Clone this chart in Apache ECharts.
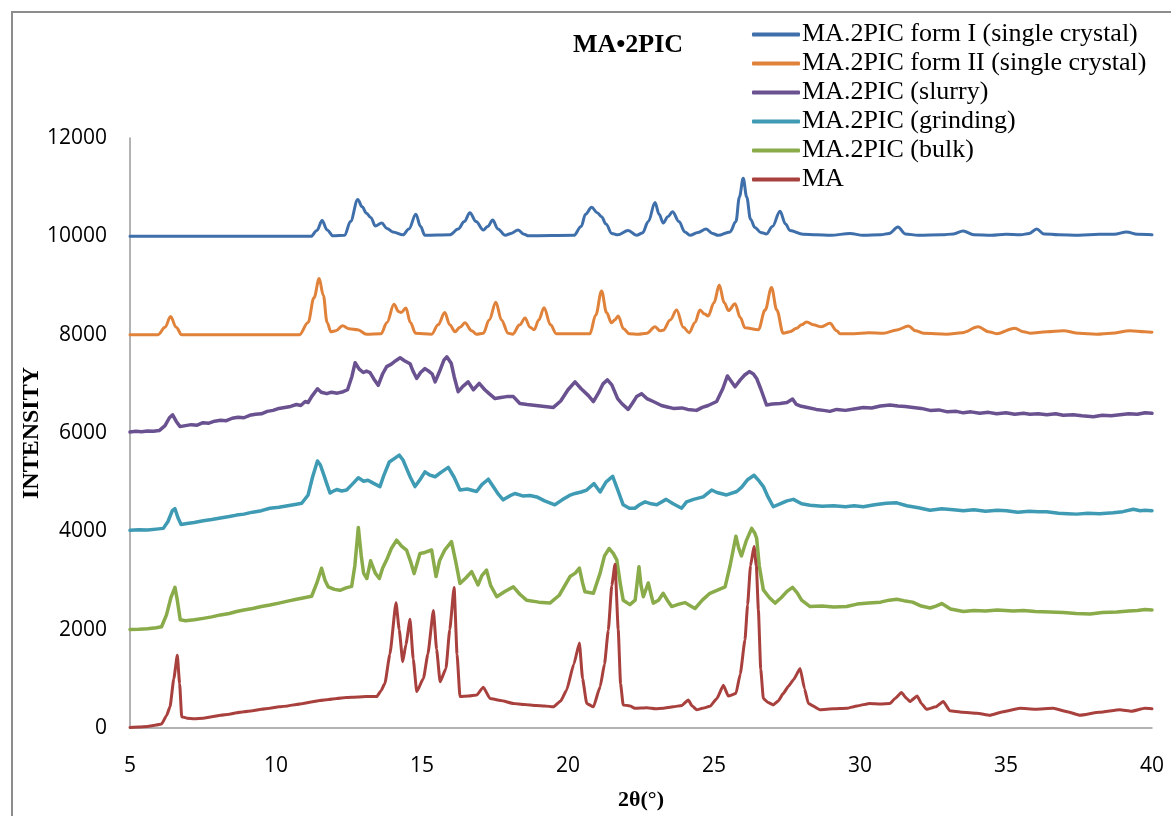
<!DOCTYPE html>
<html><head><meta charset="utf-8">
<script src="https://cdn.jsdelivr.net/npm/echarts@6/dist/echarts.min.js"></script>
<style>html,body{margin:0;padding:0;background:#fff}#c{width:1171px;height:816px}</style>
</head><body><div id="c"></div>
<script>
const seriesNames = ['MA.2PIC form I (single crystal)','MA.2PIC form II (single crystal)','MA.2PIC (slurry)','MA.2PIC (grinding)','MA.2PIC (bulk)','MA'];
const xTicks = [5,10,15,20,25,30,35,40];
const yTicks = [0,2000,4000,6000,8000,10000,12000];

const formI = [[5,10000],[11.2,10000],[11.4,10120],[11.58,10320],[11.75,10130],[11.95,10010],[12.35,10020],[12.55,10300],[12.8,10750],[12.95,10600],[13.1,10470],[13.25,10380],[13.4,10210],[13.62,10270],[13.8,10160],[14.0,10090],[14.35,10030],[14.55,10150],[14.79,10450],[14.95,10200],[15.1,10020],[15.95,10030],[16.24,10150],[16.45,10300],[16.64,10480],[16.85,10300],[17.1,10130],[17.25,10200],[17.42,10330],[17.6,10150],[17.85,10020],[18.05,10060],[18.29,10130],[18.5,10040],[18.65,10010],[20.2,10020],[20.45,10200],[20.6,10450],[20.81,10590],[21.0,10480],[21.15,10400],[21.3,10250],[21.5,10060],[21.7,10030],[22.06,10120],[22.35,10020],[22.55,10070],[22.75,10300],[22.98,10690],[23.12,10450],[23.26,10270],[23.42,10400],[23.58,10500],[23.8,10300],[24.0,10090],[24.18,10020],[24.45,10080],[24.73,10150],[24.95,10060],[25.14,10020],[25.55,10090],[25.75,10300],[25.87,10800],[26.0,11180],[26.12,10800],[26.25,10350],[26.4,10180],[26.6,10080],[26.8,10050],[27.0,10200],[27.26,10510],[27.45,10250],[27.6,10120],[28.05,10040],[28.5,10030],[29.0,10020],[29.66,10060],[30.1,10020],[30.7,10030],[31.0,10060],[31.3,10190],[31.55,10050],[32.0,10020],[32.8,10030],[33.2,10050],[33.53,10110],[33.9,10030],[34.5,10020],[35.0,10040],[35.5,10030],[35.8,10060],[36.05,10150],[36.3,10050],[36.8,10030],[37.5,10020],[38.2,10040],[38.7,10040],[39.13,10090],[39.5,10040],[40,10030]];

const formII = [[5,8000],[5.96,8000],[6.2,8150],[6.39,8370],[6.58,8150],[6.77,8000],[10.8,8000],[11.1,8250],[11.3,8750],[11.48,9140],[11.62,8800],[11.75,8250],[11.88,8060],[12.05,8080],[12.28,8180],[12.5,8120],[12.8,8100],[13.1,8010],[13.6,8020],[13.8,8250],[14.04,8620],[14.2,8470],[14.28,8450],[14.45,8540],[14.6,8250],[14.78,8030],[15.33,8010],[15.55,8200],[15.78,8450],[15.95,8200],[16.13,8060],[16.3,8150],[16.47,8240],[16.7,8080],[16.87,8010],[17.1,8030],[17.3,8300],[17.53,8660],[17.72,8300],[17.95,8030],[18.1,8010],[18.35,8200],[18.53,8340],[18.7,8150],[18.84,8100],[19.0,8300],[19.18,8550],[19.4,8200],[19.6,8020],[20.75,8020],[20.95,8400],[21.15,8890],[21.32,8450],[21.49,8240],[21.6,8300],[21.72,8380],[21.9,8120],[22.1,8020],[22.4,8010],[22.7,8030],[22.98,8160],[23.15,8080],[23.26,8090],[23.5,8300],[23.72,8500],[23.95,8150],[24.15,8040],[24.35,8250],[24.52,8500],[24.68,8420],[24.8,8380],[25.0,8650],[25.18,9010],[25.35,8650],[25.5,8490],[25.72,8630],[25.9,8350],[26.06,8140],[26.52,8100],[26.75,8500],[26.97,8960],[27.15,8500],[27.37,8030],[27.6,8060],[27.83,8130],[28.0,8200],[28.17,8260],[28.4,8200],[28.68,8160],[28.97,8230],[29.2,8080],[29.32,8020],[29.8,8020],[30.3,8040],[30.8,8030],[31.26,8095],[31.66,8175],[31.9,8080],[32.17,8030],[32.97,8010],[33.5,8040],[34.05,8160],[34.4,8060],[34.68,8020],[35.3,8130],[35.6,8060],[35.82,8030],[36.4,8060],[36.96,8080],[37.5,8030],[38.1,8010],[38.6,8030],[39.25,8080],[39.76,8060],[40,8050]];

const slurry = [[5,6020],[5.2,6035],[5.4,6025],[5.6,6040],[5.8,6035],[6.0,6050],[6.2,6150],[6.35,6310],[6.46,6370],[6.58,6240],[6.71,6130],[6.9,6150],[7.1,6170],[7.3,6160],[7.5,6210],[7.7,6200],[7.9,6240],[8.1,6260],[8.3,6250],[8.5,6300],[8.7,6320],[8.9,6310],[9.1,6360],[9.3,6380],[9.5,6390],[9.7,6440],[9.9,6460],[10.1,6500],[10.3,6520],[10.5,6540],[10.7,6580],[10.85,6560],[11.0,6640],[11.1,6620],[11.22,6740],[11.42,6900],[11.55,6830],[11.74,6800],[11.9,6830],[12.1,6810],[12.3,6840],[12.45,6880],[12.6,7150],[12.71,7430],[12.85,7300],[12.99,7230],[13.1,7260],[13.22,7230],[13.35,7100],[13.5,6970],[13.65,7200],[13.79,7350],[13.95,7400],[14.1,7470],[14.25,7530],[14.4,7470],[14.59,7410],[14.7,7250],[14.82,7110],[14.95,7230],[15.1,7310],[15.25,7250],[15.35,7200],[15.45,7040],[15.6,7250],[15.75,7480],[15.85,7550],[16.0,7420],[16.1,7150],[16.24,6840],[16.4,6950],[16.58,7040],[16.76,6880],[16.96,7010],[17.15,6880],[17.3,6800],[17.5,6700],[17.7,6720],[17.9,6740],[18.13,6740],[18.35,6600],[18.6,6580],[18.9,6560],[19.2,6540],[19.5,6520],[19.75,6650],[20.0,6880],[20.24,7040],[20.45,6900],[20.7,6760],[20.87,6640],[21.05,6820],[21.2,7000],[21.35,7080],[21.5,6980],[21.7,6700],[21.84,6600],[22.06,6480],[22.2,6600],[22.35,6740],[22.52,6800],[22.7,6700],[22.92,6640],[23.2,6560],[23.4,6530],[23.61,6500],[23.9,6510],[24.1,6480],[24.4,6460],[24.6,6520],[24.8,6560],[25.09,6640],[25.3,6900],[25.46,7160],[25.6,7040],[25.72,6940],[25.9,7080],[26.05,7180],[26.21,7250],[26.35,7200],[26.46,7110],[26.6,6900],[26.8,6570],[27.0,6590],[27.26,6600],[27.5,6620],[27.69,6690],[27.82,6580],[27.95,6550],[28.2,6520],[28.5,6480],[28.75,6460],[28.97,6440],[29.2,6480],[29.5,6460],[29.8,6490],[30.11,6520],[30.4,6510],[30.7,6550],[31.03,6570],[31.3,6550],[31.55,6540],[31.82,6520],[32.1,6500],[32.4,6460],[32.7,6470],[33.0,6430],[33.3,6440],[33.54,6410],[33.8,6430],[34.1,6400],[34.4,6420],[34.68,6390],[35.0,6410],[35.3,6380],[35.6,6400],[35.82,6380],[36.1,6390],[36.4,6370],[36.7,6390],[36.96,6360],[37.3,6370],[37.6,6350],[37.99,6330],[38.3,6360],[38.6,6350],[38.9,6370],[39.2,6390],[39.5,6380],[39.76,6410],[40,6400]];

const grinding = [[5,4020],[5.3,4030],[5.6,4025],[5.9,4045],[6.14,4060],[6.3,4200],[6.45,4420],[6.54,4460],[6.64,4280],[6.75,4140],[6.95,4160],[7.2,4180],[7.51,4215],[7.8,4240],[8.1,4270],[8.4,4300],[8.65,4330],[8.9,4350],[9.2,4390],[9.5,4420],[9.79,4470],[10.1,4490],[10.4,4520],[10.7,4550],[10.88,4570],[11.1,4740],[11.25,5100],[11.42,5430],[11.52,5350],[11.62,5180],[11.75,4950],[11.85,4780],[12.0,4830],[12.08,4850],[12.25,4820],[12.42,4840],[12.6,4950],[12.82,5090],[13.0,5020],[13.15,5040],[13.33,4980],[13.56,4910],[13.7,5150],[13.88,5410],[14.05,5480],[14.22,5550],[14.35,5450],[14.47,5280],[14.6,5100],[14.76,4910],[14.93,5050],[15.1,5210],[15.25,5150],[15.45,5110],[15.65,5200],[15.9,5300],[16.1,5100],[16.3,4840],[16.55,4860],[16.87,4810],[17.05,4950],[17.27,5060],[17.45,4900],[17.62,4750],[17.78,4640],[18.0,4720],[18.18,4770],[18.45,4720],[18.7,4730],[18.93,4700],[19.2,4620],[19.55,4540],[19.8,4640],[20.05,4730],[20.24,4770],[20.45,4800],[20.64,4840],[20.89,4970],[21.0,4880],[21.1,4800],[21.3,5000],[21.53,5120],[21.7,4850],[21.89,4540],[22.1,4470],[22.29,4470],[22.45,4540],[22.64,4600],[22.85,4560],[23.04,4540],[23.36,4650],[23.6,4560],[23.89,4470],[24.06,4600],[24.3,4650],[24.63,4700],[24.92,4840],[25.1,4790],[25.43,4740],[25.78,4810],[25.95,4900],[26.15,5050],[26.37,5140],[26.55,5020],[26.69,4910],[26.85,4700],[27.03,4500],[27.3,4570],[27.5,4620],[27.72,4650],[28.0,4560],[28.29,4530],[28.7,4510],[29.1,4520],[29.5,4500],[29.8,4520],[30.11,4500],[30.5,4540],[30.9,4570],[31.26,4580],[31.6,4520],[32.0,4480],[32.4,4430],[32.8,4460],[33.2,4440],[33.54,4420],[33.9,4440],[34.3,4410],[34.7,4430],[35.02,4420],[35.4,4390],[35.8,4410],[36.1,4400],[36.39,4400],[36.8,4370],[37.1,4360],[37.42,4350],[37.8,4370],[38.2,4360],[38.67,4380],[39.0,4400],[39.36,4450],[39.6,4420],[39.76,4430],[40,4420]];

const bulk = [[5,2005],[5.3,2010],[5.6,2020],[5.9,2040],[6.08,2060],[6.25,2300],[6.4,2650],[6.54,2860],[6.62,2600],[6.72,2200],[6.9,2180],[7.2,2200],[7.51,2230],[7.8,2260],[8.1,2300],[8.4,2330],[8.65,2370],[8.9,2400],[9.2,2430],[9.5,2470],[9.79,2500],[10.1,2540],[10.4,2580],[10.7,2620],[10.88,2640],[11.05,2660],[11.22,2680],[11.4,2950],[11.56,3250],[11.68,3000],[11.79,2870],[12.0,2820],[12.19,2800],[12.4,2850],[12.59,2880],[12.7,3300],[12.82,4080],[12.92,3500],[13.0,3150],[13.11,3040],[13.24,3400],[13.4,3150],[13.54,3040],[13.65,3250],[13.79,3420],[13.95,3650],[14.13,3820],[14.3,3700],[14.47,3620],[14.6,3400],[14.73,3140],[14.93,3550],[15.1,3570],[15.33,3620],[15.48,3080],[15.6,3400],[15.78,3620],[16.01,3790],[16.15,3400],[16.3,2940],[16.5,3050],[16.7,3180],[16.92,2910],[17.05,3100],[17.21,3210],[17.35,2900],[17.56,2670],[17.85,2780],[18.13,2870],[18.35,2720],[18.58,2600],[19.0,2560],[19.38,2540],[19.7,2700],[20.07,3080],[20.25,3150],[20.39,3250],[20.5,2950],[20.58,2770],[20.87,2740],[21.1,3150],[21.25,3500],[21.41,3650],[21.55,3550],[21.67,3420],[21.8,2900],[21.89,2600],[22.12,2510],[22.3,2600],[22.43,3280],[22.5,2900],[22.58,2670],[22.75,2950],[22.85,2700],[22.92,2540],[23.1,2600],[23.26,2740],[23.4,2600],[23.55,2470],[23.8,2520],[24.01,2550],[24.2,2480],[24.35,2430],[24.6,2600],[24.86,2740],[25.1,2800],[25.38,2870],[25.55,3300],[25.75,3900],[25.85,3650],[25.94,3500],[26.1,3800],[26.29,4060],[26.4,3960],[26.46,3860],[26.55,3300],[26.69,2810],[26.9,2650],[27.09,2540],[27.3,2650],[27.5,2780],[27.69,2860],[27.85,2750],[28.0,2600],[28.29,2470],[28.7,2480],[29.1,2460],[29.54,2470],[29.9,2520],[30.3,2540],[30.7,2560],[31.0,2600],[31.26,2620],[31.5,2590],[31.8,2560],[32.1,2480],[32.4,2440],[32.6,2480],[32.8,2530],[33.1,2420],[33.54,2370],[33.9,2390],[34.3,2380],[34.7,2400],[35.25,2380],[35.6,2390],[36.0,2370],[36.5,2360],[36.96,2350],[37.4,2330],[37.88,2320],[38.3,2350],[38.8,2360],[39.2,2380],[39.5,2390],[39.76,2410],[40,2400]];

const ma = [[5,10],[5.3,20],[5.6,30],[5.9,60],[6.08,80],[6.25,250],[6.37,430],[6.5,1000],[6.62,1480],[6.7,900],[6.77,230],[6.95,200],[7.2,190],[7.51,200],[7.8,230],[8.1,260],[8.4,280],[8.65,310],[8.9,330],[9.2,350],[9.5,380],[9.79,400],[10.1,430],[10.4,450],[10.7,480],[10.93,500],[11.2,530],[11.5,560],[11.8,580],[12.08,600],[12.4,620],[12.8,630],[13.1,640],[13.45,640],[13.6,760],[13.73,910],[13.9,1500],[14.11,2550],[14.22,2000],[14.34,1350],[14.45,1700],[14.59,2210],[14.7,1400],[14.82,740],[15.05,1010],[15.2,1500],[15.39,2390],[15.5,1600],[15.62,940],[15.82,1210],[15.95,2000],[16.1,2860],[16.2,1500],[16.3,640],[16.6,650],[16.87,670],[17.1,830],[17.33,600],[17.7,560],[18.13,500],[18.5,480],[18.9,460],[19.2,450],[19.5,430],[19.75,550],[19.95,770],[20.2,1300],[20.39,1730],[20.5,1000],[20.64,500],[20.87,430],[21.1,840],[21.25,1300],[21.38,1990],[21.5,2900],[21.61,3330],[21.72,2000],[21.8,900],[21.89,470],[22.12,450],[22.29,400],[22.7,410],[23.0,390],[23.26,400],[23.6,430],[23.9,460],[24.12,570],[24.25,450],[24.41,370],[24.6,400],[24.86,440],[25.1,600],[25.32,870],[25.49,650],[25.75,700],[25.9,1100],[26.06,1790],[26.15,2500],[26.25,3300],[26.37,3690],[26.45,3300],[26.52,2400],[26.6,1200],[26.69,600],[26.85,520],[27.03,470],[27.2,550],[27.37,700],[27.55,850],[27.72,980],[27.95,1210],[28.1,800],[28.23,500],[28.63,370],[29.1,390],[29.54,400],[29.9,450],[30.34,500],[30.7,490],[31.03,500],[31.2,600],[31.42,720],[31.6,600],[31.71,540],[31.96,650],[32.1,500],[32.28,380],[32.6,430],[32.85,540],[33.08,350],[33.5,320],[34.0,300],[34.45,260],[34.9,330],[35.48,400],[36.0,380],[36.62,400],[37.1,330],[37.53,260],[38.2,320],[38.9,370],[39.3,340],[39.76,400],[40,390]];

const colors = ['#3f6faa','#e0823a','#6a5190','#3e9bb3','#89ab4a','#a8413d'];
const datasets = [formI, formII, slurry, grinding, bulk, ma];
const smoothFlags = [0.35, 0.35, 0, 0, 0, 0.15];
const widths = [3, 3, 3.5, 3.5, 3.5, 3];

const chart = echarts.init(document.getElementById('c'), null, {renderer:'canvas'});
const serif = "'Liberation Serif','Times New Roman',serif";
const tickFont = "'Open Sans',sans-serif";
chart.setOption({
  animation:false,
  backgroundColor:'#fff',
  color: colors,
  title:{text:'MA\u20222PIC', left:623, top:27, textAlign:'center',
    textStyle:{fontFamily:serif, fontWeight:'bold', fontSize:26, color:'#000'}},
  legend:{orient:'vertical', left:752, top:20, padding:0, itemWidth:48, itemHeight:4, itemGap:0,
    icon:'roundRect',
    data: seriesNames,
    textStyle:{fontFamily:serif, fontSize:26, color:'#000', lineHeight:29, padding:[0,0,0,-3]}},
  grid:{left:130, right:19, top:138, bottom:88, outerBoundsMode:'none', containLabel:false},
  xAxis:{type:'value', min:xTicks[0], max:xTicks[xTicks.length-1], interval:5,
    name:'2\u03b8(\u00b0)', nameLocation:'middle', nameGap:61, nameMoveOverlap:false,
    nameTextStyle:{fontFamily:serif, fontWeight:'bold', fontSize:22, color:'#000'},
    axisLine:{lineStyle:{color:'#9a9a9a', width:1.5}}, axisTick:{show:false},
    splitLine:{show:false},
    axisLabel:{margin:28, fontFamily:tickFont, fontSize:21, color:'#000'}},
  yAxis:{type:'value', min:yTicks[0], max:yTicks[yTicks.length-1], interval:2000,
    name:'INTENSITY', nameLocation:'middle', nameGap:86, nameRotate:90, nameMoveOverlap:false,
    nameTextStyle:{fontFamily:serif, fontWeight:'bold', fontSize:24, color:'#000'},
    axisLine:{show:true, lineStyle:{color:'#9a9a9a', width:1.5}}, axisTick:{show:false},
    splitLine:{show:false},
    axisLabel:{margin:23, fontFamily:tickFont, fontSize:21, color:'#000', formatter:v=>String(v)}},
  graphic:[{type:'rect', shape:{x:12, y:12, width:1300, height:1000}, style:{fill:null, stroke:'#8c8c8c', lineWidth:2}, silent:true}],
  series: seriesNames.map((n,i)=>({name:n, type:'line', data:datasets[i], showSymbol:false, symbol:'none',
    smooth:smoothFlags[i], smoothMonotone:'x', lineStyle:{width:widths[i], color:colors[i], cap:'round', join:'round'}, itemStyle:{color:colors[i]}}))
});
</script></body></html>
